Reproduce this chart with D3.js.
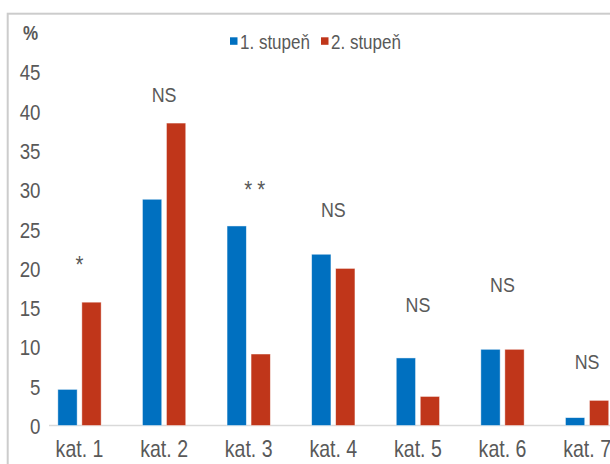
<!DOCTYPE html>
<html>
<head>
<meta charset="utf-8">
<script src="https://cdn.jsdelivr.net/npm/d3@7"></script>
<style>
  html, body { margin: 0; padding: 0; background: #fff; }
  svg { display: block; }
  text { font-family: 'Liberation Sans', Arial, sans-serif; fill: #595959; }
</style>
</head>
<body>
<svg id="chart" width="610" height="464"></svg>
<script>
// Categories and the two school levels compared (in %)
const categories = ["kat. 1", "kat. 2", "kat. 3", "kat. 4", "kat. 5", "kat. 6", "kat. 7"];
const seriesNames = ["1. stupeň", "2. stupeň"];
const stupen1 = [4.6, 28.8, 25.4, 21.8, 8.6, 9.7, 1.0];
const stupen2 = [15.7, 38.5, 9.1, 20.0, 3.7, 9.7, 3.2];
// Significance marks per category and the level (in %) at which each is written
const significance = ["*", "NS", "**", "NS", "NS", "NS", "NS"];
const significanceLevel = [19.45, 41.2, 28.96, 26.6, 14.4, 17.0, 7.15];
const yTicks = [0, 5, 10, 15, 20, 25, 30, 35, 40, 45];

const colors = ["#0070c0", "#c0361a"];
const SX = 0.85; // horizontal squeeze giving a condensed face

const svg = d3.select("#chart");

// chart frame
svg.append("rect")
  .attr("x", 7.7).attr("y", 13.7)
  .attr("width", 700).attr("height", 600)
  .attr("fill", "#fff")
  .attr("stroke", "#cccccc")
  .attr("stroke-width", 2);

const y = d3.scaleLinear().domain([0, 45]).range([425.5, 72]);

const x = d3.scaleBand().domain(categories).range([37.2, 37.2 + 84.6 * 7]).padding(0);

const groupW = 43.3;
const xInner = d3.scaleBand().domain(seriesNames)
  .range([x.bandwidth() / 2 - groupW / 2, x.bandwidth() / 2 + groupW / 2])
  .paddingInner(0.196).paddingOuter(0);

// baseline
svg.append("line")
  .attr("x1", 49).attr("x2", 610)
  .attr("y1", y(0)).attr("y2", y(0))
  .attr("stroke", "#d9d9d9").attr("stroke-width", 1.5);

// y tick labels
const yAxis = d3.axisLeft(y).tickValues(yTicks).tickSize(0).tickPadding(0);
const gy = svg.append("g").attr("transform", "translate(40.5,0)").call(yAxis);
gy.select(".domain").remove();
gy.attr("font-family", null).attr("font-size", null);
gy.selectAll("text")
  .attr("font-size", 22)
  .attr("fill", "#595959")
  .attr("dy", "0.36em")
  .attr("transform", `scale(${SX},1)`);

// x category labels
const xAxis = d3.axisBottom(x).tickSize(0).tickPadding(0);
const gx = svg.append("g").attr("transform", `translate(0,${y(0) + 31})`).call(xAxis);
gx.select(".domain").remove();
gx.attr("font-family", null).attr("font-size", null);
gx.selectAll("text")
  .attr("font-size", 23)
  .attr("fill", "#595959")
  .attr("y", 0)
  .attr("dy", 0)
  .attr("transform", `scale(${SX},1)`);

// bars
const rows = categories.map((c, i) => ({ cat: c, values: [stupen1[i], stupen2[i]] }));
const groups = svg.append("g").selectAll("g")
  .data(rows).join("g")
  .attr("transform", d => `translate(${x(d.cat)},0)`);

groups.selectAll("rect")
  .data(d => d.values.map((v, j) => ({ name: seriesNames[j], v, j })))
  .join("rect")
  .attr("x", d => xInner(d.name))
  .attr("width", xInner.bandwidth())
  .attr("y", d => y(d.v))
  .attr("height", d => y(0) - y(d.v))
  .attr("fill", d => colors[d.j])
  .attr("stroke", "#fff")
  .attr("stroke-opacity", 0.6)
  .attr("stroke-width", 0.75);

// significance marks
svg.append("g").selectAll("text")
  .data(categories.map((c, i) => ({ cat: c, s: significance[i], lvl: significanceLevel[i] })))
  .join("text")
  .attr("transform", d => `translate(${x(d.cat) + x.bandwidth() / 2},${y(d.lvl)}) scale(${SX},1)`)
  .attr("text-anchor", "middle")
  .attr("font-size", d => d.s.startsWith("*") ? 24 : 21)
  .attr("letter-spacing", d => d.s === "**" ? 6 : 0)
  .attr("dx", d => d.s === "**" ? 10 : 0)
  .text(d => d.s);

// axis unit
svg.append("text")
  .attr("transform", `translate(23,40) scale(${SX},1)`)
  .attr("font-size", 20)
  .attr("font-weight", "bold")
  .text("%");

// legend
const legendX = [230, 321];
const legend = svg.append("g").selectAll("g")
  .data(seriesNames).join("g")
  .attr("transform", (d, i) => `translate(${legendX[i]},0)`);
legend.append("rect")
  .attr("x", 0).attr("y", 37.3)
  .attr("width", 7.5).attr("height", 7.5)
  .attr("fill", (d, i) => colors[i]);
legend.append("text")
  .attr("transform", `translate(10,49) scale(${SX},1)`)
  .attr("font-size", 20)
  .text(d => d);
</script>
</body>
</html>
